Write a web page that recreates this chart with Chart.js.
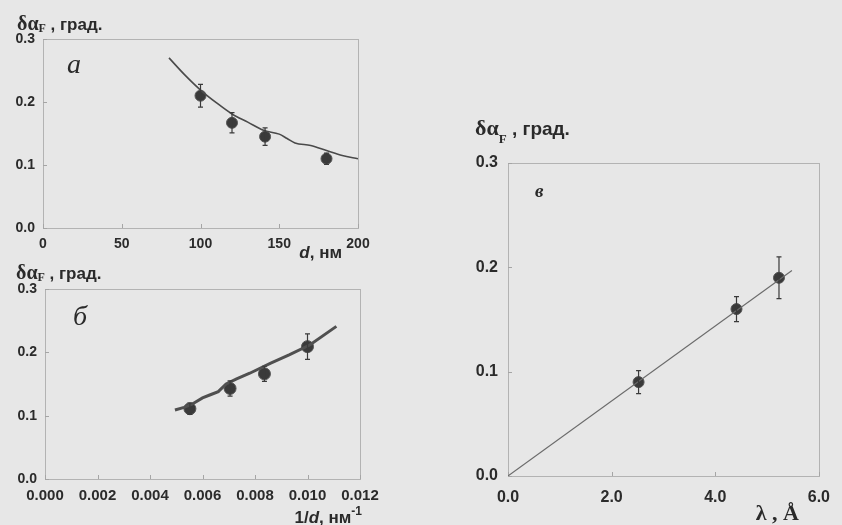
<!DOCTYPE html>
<html>
<head>
<meta charset="utf-8">
<script src="https://cdn.jsdelivr.net/npm/chart.js@4"></script>
<style>
  html, body { margin: 0; padding: 0; background: #e7e7e7; }
  #wrap { position: relative; width: 842px; height: 525px; overflow: hidden; }
  canvas { position: absolute; left: 0; top: 0; }
</style>
</head>
<body>
<div id="wrap">
  <canvas id="chart-a" width="842" height="525"></canvas>
  <canvas id="chart-b" width="842" height="525"></canvas>
  <canvas id="chart-c" width="842" height="525"></canvas>
</div>
<script>
// panel а: rotation vs film thickness
const thicknessA = [100, 120, 141, 180];
const rotationA = [0.21, 0.167, 0.145, 0.11];
const errorA = [0.018, 0.016, 0.014, 0.009];
const curveThicknessA = [80, 90, 100, 110, 120, 130, 140, 150, 155, 160, 170, 180, 190, 200];
const curveRotationA = [0.27, 0.243, 0.219, 0.199, 0.181, 0.168, 0.155, 0.149, 0.142, 0.135, 0.131, 0.123, 0.115, 0.110];
const xTicksA = [0, 50, 100, 150, 200];

// panel б: rotation vs 1/d
const inverseB = [0.00552, 0.00705, 0.00836, 0.0100];
const rotationB = [0.111, 0.143, 0.166, 0.209];
const errorB = [0.009, 0.012, 0.012, 0.02];
const lineInverseB = [0.00495, 0.0053, 0.0056, 0.006, 0.0063, 0.0066, 0.0069, 0.0073, 0.0078, 0.0086, 0.0093, 0.0101, 0.0111];
const lineRotationB = [0.109, 0.113, 0.118, 0.128, 0.133, 0.138, 0.150, 0.158, 0.167, 0.183, 0.196, 0.212, 0.241];
const xTicksB = [0, 0.002, 0.004, 0.006, 0.008, 0.010, 0.012];

// panel в: rotation vs wavelength
const lambdaC = [2.52, 4.41, 5.23];
const rotationC = [0.09, 0.16, 0.19];
const errorC = [0.011, 0.012, 0.02];
const fitLambdaC = [0, 5.48];
const fitRotationC = [0, 0.197];
const xTicksC = [0, 2, 4, 6];

const yTicks = [0, 0.1, 0.2, 0.3];

const INK = '#3a3a3a';
const SANS = '"Liberation Sans", Arial, sans-serif';
const SERIF = '"Liberation Serif", "Times New Roman", serif';

function drawRuns(ctx, runs, x, y, align) {
  ctx.textBaseline = 'alphabetic';
  ctx.textAlign = 'left';
  let total = 0;
  runs.forEach(r => { ctx.font = r.font; total += ctx.measureText(r.t).width; });
  let cx = align === 'right' ? x - total : x;
  runs.forEach(r => {
    ctx.font = r.font;
    ctx.fillText(r.t, cx, y + (r.dy || 0));
    cx += ctx.measureText(r.t).width;
  });
}

const decor = {
  id: 'decor',
  beforeDatasetsDraw(chart) {
    const { ctx, chartArea: a, scales } = chart;
    ctx.save();
    ctx.strokeStyle = '#b3b3b3';
    ctx.lineWidth = 1;
    ctx.strokeRect(Math.round(a.left) + 0.5, Math.round(a.top) + 0.5, Math.round(a.width), Math.round(a.height));
    // short inward tick marks
    ctx.strokeStyle = '#a5a5a5';
    ctx.beginPath();
    scales.x.ticks.forEach(t => {
      const px = Math.round(scales.x.getPixelForValue(t.value)) + 0.5;
      ctx.moveTo(px, a.bottom); ctx.lineTo(px, a.bottom - 4);
    });
    scales.y.ticks.forEach(t => {
      const py = Math.round(scales.y.getPixelForValue(t.value)) + 0.5;
      ctx.moveTo(a.left, py); ctx.lineTo(a.left + 4, py);
    });
    ctx.stroke();
    ctx.restore();
  },
  afterDatasetsDraw(chart) {
    const { ctx } = chart;
    const yScale = chart.scales.y;
    ctx.save();
    chart.data.datasets.forEach((ds, i) => {
      if (!ds.errors) return;
      chart.getDatasetMeta(i).data.forEach((pt, j) => {
        const v = ds.data[j].y;
        const top = yScale.getPixelForValue(v + ds.errors[j]);
        const bottom = yScale.getPixelForValue(v - ds.errors[j]);
        ctx.strokeStyle = ds.backgroundColor;
        ctx.lineWidth = 1.2;
        ctx.beginPath();
        ctx.moveTo(pt.x, top); ctx.lineTo(pt.x, bottom);
        ctx.moveTo(pt.x - 2.5, top); ctx.lineTo(pt.x + 2.5, top);
        ctx.moveTo(pt.x - 2.5, bottom); ctx.lineTo(pt.x + 2.5, bottom);
        ctx.stroke();
      });
    });
    ctx.restore();
  },
  afterDraw(chart, args, opts) {
    const { ctx, chartArea: a } = chart;
    ctx.save();
    ctx.fillStyle = '#2a2a2a';
    drawRuns(ctx, opts.yTitle, a.left + opts.yTitleAt[0], a.top + opts.yTitleAt[1], 'left');
    drawRuns(ctx, opts.xTitle, a.right + opts.xTitleAt[0], a.bottom + opts.xTitleAt[1], 'right');
    drawRuns(ctx, opts.label, a.left + opts.labelAt[0], a.top + opts.labelAt[1], 'left');
    ctx.restore();
  }
};

function pairs(xs, ys) {
  return xs.map((x, i) => ({ x: x, y: ys[i] }));
}

function makePanel(id, p) {
  new Chart(document.getElementById(id), {
    type: 'scatter',
    data: {
      datasets: [
        {
          data: pairs(p.lineX, p.lineY),
          showLine: true,
          borderColor: p.lineColor,
          borderWidth: p.lineWidth,
          pointRadius: 0,
          tension: p.tension,
          cubicInterpolationMode: p.tension ? 'monotone' : 'default',
        },
        {
          data: pairs(p.pointX, p.pointY),
          errors: p.errors,
          backgroundColor: INK,
          borderColor: '#555',
          borderWidth: 1,
          pointRadius: p.radius,
        },
      ],
    },
    options: {
      responsive: false,
      animation: false,
      events: [],
      layout: { padding: p.padding },
      plugins: {
        legend: { display: false },
        tooltip: { enabled: false },
        decor: p.decor,
      },
      scales: {
        x: {
          type: 'linear',
          min: p.xMin, max: p.xMax,
          afterBuildTicks: s => { s.ticks = p.xTicks.map(v => ({ value: v })); },
          afterFit: s => { s.height = p.xHeight; },
          grid: { display: false, drawTicks: false },
          border: { display: true, color: '#a9a9a9', width: 1 },
          ticks: {
            padding: p.xPad,
            color: '#2b2b2b',
            font: { family: SANS, weight: 'bold', size: p.xFont },
            callback: v => p.xFmt(v),
          },
        },
        y: {
          type: 'linear',
          min: 0, max: 0.3,
          afterBuildTicks: s => { s.ticks = yTicks.map(v => ({ value: v })); },
          afterFit: s => { s.width = p.yWidth; },
          grid: { display: false, drawTicks: false },
          border: { display: true, color: '#a9a9a9', width: 1 },
          ticks: {
            padding: p.yPad,
            color: '#2b2b2b',
            font: { family: SANS, weight: 'bold', size: p.yFont },
            callback: v => v.toFixed(1),
          },
        },
      },
    },
    plugins: [decor],
  });
}

makePanel('chart-a', {
  lineX: curveThicknessA, lineY: curveRotationA, lineColor: '#4a4a4a', lineWidth: 1.6, tension: 0.4,
  pointX: thicknessA, pointY: rotationA, errors: errorA, radius: 5.5,
  xMin: 0, xMax: 200, xTicks: xTicksA, xFmt: v => String(v), xFont: 14, xPad: 8, yFont: 14, yPad: 8,
  padding: { left: 0, top: 39, right: 842 - 358, bottom: 0 },
  yWidth: 43, xHeight: 525 - 228,
  decor: {
    yTitle: [
      { t: 'δα', font: 'bold 20px ' + SERIF },
      { t: 'F', font: 'bold 12px ' + SERIF, dy: 2 },
      { t: ' , град.', font: 'bold 17px ' + SANS },
    ],
    yTitleAt: [-26, -9],
    xTitle: [
      { t: 'd', font: 'italic bold 17px ' + SANS },
      { t: ', нм', font: 'bold 17px ' + SANS },
    ],
    xTitleAt: [-16, 30],
    label: [{ t: 'а', font: 'italic 28px ' + SERIF }],
    labelAt: [24, 34],
  },
});

makePanel('chart-b', {
  lineX: lineInverseB, lineY: lineRotationB, lineColor: '#505050', lineWidth: 3, tension: 0,
  pointX: inverseB, pointY: rotationB, errors: errorB, radius: 6,
  xMin: 0, xMax: 0.012, xTicks: xTicksB, xFmt: v => v.toFixed(3), xFont: 15, xPad: 8, yFont: 14, yPad: 8,
  padding: { left: 0, top: 289, right: 842 - 360, bottom: 0 },
  yWidth: 45, xHeight: 525 - 479,
  decor: {
    yTitle: [
      { t: 'δα', font: 'bold 20px ' + SERIF },
      { t: 'F', font: 'bold 12px ' + SERIF, dy: 2 },
      { t: ' , град.', font: 'bold 17px ' + SANS },
    ],
    yTitleAt: [-29, -10],
    xTitle: [
      { t: '1/', font: 'bold 17px ' + SANS },
      { t: 'd', font: 'italic bold 17px ' + SANS },
      { t: ', нм', font: 'bold 17px ' + SANS },
      { t: '-1', font: 'bold 12px ' + SANS, dy: -8 },
    ],
    xTitleAt: [2, 44],
    label: [{ t: 'б', font: 'italic 28px ' + SERIF }],
    labelAt: [28, 36],
  },
});

makePanel('chart-c', {
  lineX: fitLambdaC, lineY: fitRotationC, lineColor: '#6a6a6a', lineWidth: 1.1, tension: 0,
  pointX: lambdaC, pointY: rotationC, errors: errorC, radius: 5.5,
  xMin: 0, xMax: 6, xTicks: xTicksC, xFmt: v => v.toFixed(1), xFont: 16, xPad: 12, yFont: 16, yPad: 10,
  padding: { left: 440, top: 163, right: 842 - 826, bottom: 0 },
  yWidth: 68, xHeight: 525 - 476,
  decor: {
    yTitle: [
      { t: 'δα', font: 'bold 22px ' + SERIF },
      { t: 'F', font: 'bold 13px ' + SERIF, dy: 8 },
      { t: ' , град.', font: 'bold 19px ' + SANS },
    ],
    yTitleAt: [-33, -28],
    xTitle: [{ t: 'λ , Å', font: 'bold 22px ' + SERIF }],
    xTitleAt: [-20, 44],
    label: [{ t: 'в', font: 'italic bold 19px ' + SERIF }],
    labelAt: [27, 34],
  },
});
</script>
</body>
</html>
